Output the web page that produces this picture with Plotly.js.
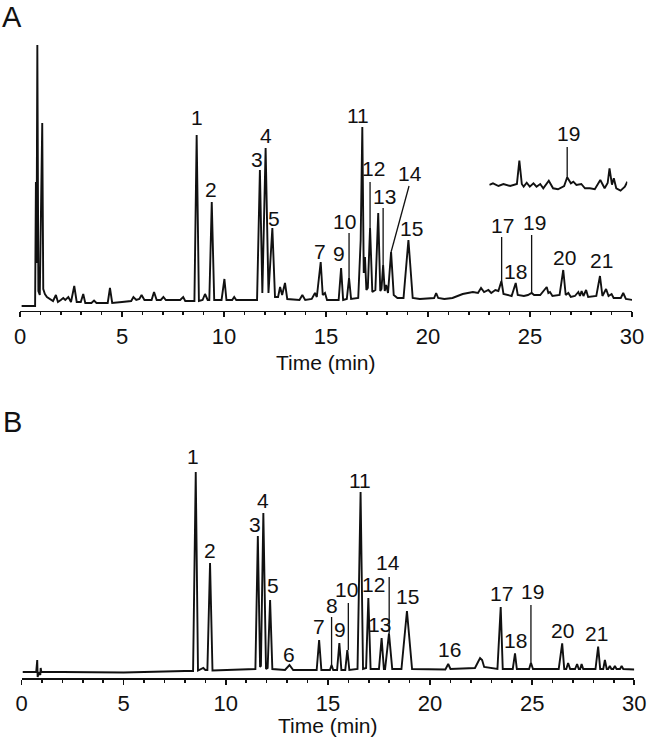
<!DOCTYPE html>
<html>
<head>
<meta charset="utf-8">
<script src="https://cdn.plot.ly/plotly-3.0.1.min.js"></script>
<style>
  html, body { margin: 0; padding: 0; background: #fff; }
  #chart { width: 649px; height: 739px; }
</style>
</head>
<body>
<div id="chart"></div>
<script>
// chromatogram A (sample): time (min) and signal (a.u.)
const timeA = [0.08, 0.74, 0.78, 0.81, 0.85, 0.90, 0.97, 1.09, 1.14, 1.22, 1.32, 1.45, 1.62, 1.76, 1.86,
  2.0, 2.12, 2.22, 2.37, 2.5, 2.66, 2.78, 2.98, 3.1, 3.2, 3.5, 3.63, 3.75, 4.3, 4.41, 4.52, 5.0, 5.3,
  5.45, 5.56, 5.7, 5.85, 5.96, 6.1, 6.45, 6.57, 6.7, 6.9, 7.03, 7.15, 7.6, 7.85, 8.0, 8.1, 8.55, 8.66,
  8.77, 8.95, 9.07, 9.2, 9.28, 9.4, 9.52, 9.88, 10.02, 10.12, 10.4, 10.5, 10.6, 11.62, 11.76, 11.88,
  12.04, 12.18, 12.37, 12.5, 12.65, 12.75, 12.85, 12.99, 13.1, 13.7, 13.84, 13.98, 14.3, 14.46, 14.55,
  14.74, 14.84, 14.95, 15.05, 15.62, 15.74, 15.84, 16.02, 16.13, 16.23, 16.58, 16.7, 16.78, 16.85,
  16.91, 16.98, 17.05, 17.16, 17.27, 17.42, 17.56, 17.66, 17.72, 17.8, 17.88, 17.95, 18.04, 18.19,
  18.32, 18.5, 18.8, 19.04, 19.25, 19.6, 20.3, 20.4, 20.5, 20.8, 21.2, 21.7, 22.2, 22.45, 22.6, 22.75,
  22.96, 23.1, 23.3, 23.45, 23.6, 23.7, 23.86, 24.1, 24.3, 24.4, 24.7, 24.9, 25.08, 25.2, 25.5, 25.82,
  25.9, 25.98, 26.1, 26.45, 26.63, 26.75, 26.88, 27.0, 27.2, 27.37, 27.45, 27.53, 27.62, 27.75, 27.85,
  28.25, 28.43, 28.55, 28.73, 28.85, 29.0, 29.1, 29.45, 29.57, 29.7, 30.05];
const signalA = [-3, -3, 121, 40, 258, 12, 8, 180, 14, 9, 6, 4, 2, 8, 1,
  3, 5, 3, 6, 1, 17, 1, 1, 9, 0, 0, 2.5, 0, 0, 15, 0, 1, 1.5,
  2, 6, 3, 4, 8, 3, 3, 11, 3, 3, 6, 3, 3, 3, 6, 2, 2, 168,
  2, 3, 9, 3, 3, 101, 3, 3, 24, 3, 3, 6, 3, 3, 133, 10,
  155, 10, 75, 6, 6, 16, 8, 20, 4, 3, 8, 3, 4, 10, 6,
  41, 8, 10, 3, 3, 35, 3, 4, 25, 4, 5, 63, 176, 30,
  46, 13, 15, 75, 11, 13, 90, 12, 14, 38, 12, 18, 10, 51,
  8, 5, 5, 63, 5, 4, 5, 10, 5, 4, 5, 9, 11, 10, 15, 11,
  13, 10, 13, 12, 22, 9, 8, 7, 20, 8, 7, 8, 10, 8, 8, 16,
  10, 11, 7, 8, 33, 8, 10, 6, 7, 11, 7, 12, 7, 13, 6,
  7, 27, 7, 14, 7, 9, 5, 5, 10, 4, 3];

// inset of A (enlarged 23.8-26.1 min)
const timeInset = [23.81, 23.87, 23.96, 24.04, 24.15, 24.23, 24.26, 24.30, 24.34, 24.37, 24.42, 24.47,
  24.53, 24.58, 24.64, 24.69, 24.78, 24.85, 24.93, 25.03, 25.08, 25.14, 25.18, 25.23, 25.31, 25.37,
  25.45, 25.53, 25.62, 25.69, 25.74, 25.77, 25.81, 25.84, 25.88, 25.95, 26.02, 26.06];
const signalInset = [2, 3.7, 1, 3, 1, 2, 3, 26.3, 3, 0.3, 4.3, 0.3,
  3.7, 0.3, 3, -1.3, 6.3, -1.3, -2.3, 1, 9.7, 3.7, 5.3, 2, 3, -1.3,
  -1.3, -2.3, 7, -1.3, 4, 18.7, 2.3, 8.7, -1.3, -3.7, 0.3, 5.3];

// chromatogram B (standards)
const timeB = [0.06, 0.72, 0.77, 0.79, 0.85, 0.92, 0.94, 0.97, 2, 5, 8, 8.4, 8.53, 8.64, 8.9, 9.0,
  9.1, 9.23, 9.35, 10.5, 11.45, 11.57, 11.68, 11.72, 11.84, 11.97, 12.05, 12.17, 12.28, 12.9, 13.12,
  13.3, 14.45, 14.57, 14.68, 15.1, 15.18, 15.26, 15.45, 15.56, 15.66, 15.85, 15.95, 16.05, 16.45,
  16.6, 16.72, 16.87, 16.98, 17.09, 17.5, 17.63, 17.74, 17.8, 17.99, 18.15, 18.6, 18.87, 19.12,
  20.75, 20.89, 21.0, 22.2, 22.35, 22.45, 22.55, 22.65, 23.3, 23.46, 23.56, 24.05, 24.16, 24.25,
  24.85, 24.94, 25.04, 26.3, 26.47, 26.57, 26.67, 26.76, 26.86, 27.1, 27.2, 27.28, 27.35, 27.42,
  27.5, 28.1, 28.23, 28.33, 28.48, 28.56, 28.65, 28.72, 28.8, 28.88, 28.97, 29.05, 29.13, 29.3,
  29.38, 29.46, 30.0];
const signalB = [0, 0, 12, -5, 0, -3, 4, 0, 0, -0.5, 1, 1, 200, 1.5, 4, 2,
  2, 109, 1.5, 2, 3, 136, 5, 6, 159, 3, 4, 72, 3, 2, 7,
  2, 2, 32, 2, 2, 7, 2, 2, 29, 2, 2, 22, 2, 3,
  180, 3, 4, 74, 3, 3, 34, 3, 3, 38.7, 3, 3, 61, 3,
  2.5, 8, 3, 4, 10, 14, 12, 5, 3, 65, 3, 3, 18.7, 3,
  3, 9.3, 3, 3, 28.7, 3, 3, 9, 3, 3, 8, 3, 3, 8,
  3, 3, 25.3, 3, 3, 12, 3, 3, 6, 3, 3, 6, 3, 3,
  6, 3, 2.5];

// peak numbers: text, centre time, value at the bottom of the digits
const labelTextA = ['1', '2', '3', '4', '5', '7', '9', '10', '11', '12', '13', '14', '15', '17', '18', '19', '20', '21'];
const labelTimeA = [8.66, 9.36, 11.6, 12.04, 12.45, 14.71, 15.65, 15.93, 16.58, 17.35, 17.89, 19.12, 19.2, 23.66, 24.31, 25.21, 26.68, 28.51];
const labelValA = [177, 105, 135, 159, 76, 43, 41, 73, 179, 126, 98, 121, 66, 69, 23, 72, 37, 34];

const labelTextB = ['1', '2', '3', '4', '5', '6', '7', '8', '9', '10', '11', '12', '13', '14', '15', '16', '17', '18', '19', '20', '21'];
const labelTimeB = [8.41, 9.23, 11.43, 11.84, 12.3, 13.11, 14.56, 15.18, 15.59, 15.93, 16.56, 17.22, 17.51, 17.92, 18.88, 20.94, 23.5, 24.16, 25.02, 26.47, 28.15];
const labelValB = [207, 113, 139, 163, 78, 9.3, 37, 58, 34, 74, 183, 79, 39, 101, 67, 14, 70, 23, 72, 33, 30];

// leader lines: [t1, v1, t2, v2]
const leadersA = [[16.13, 70, 16.13, 25], [17.16, 121, 17.16, 75], [17.8, 95, 17.8, 38],
  [19.07, 117, 18.19, 51], [23.61, 66, 23.61, 22], [25.08, 68, 25.08, 10]];
const leadersB = [[15.18, 55, 15.18, 7], [16.0, 69, 16.0, 22], [18.0, 95, 18.0, 38.7], [24.94, 67, 24.94, 9.3]];
const leadersInset = [[25.08, 40, 25.08, 9.7]];
const insetLabel = ['19', 25.10, 45];

const ink = '#111';
const font = 'Liberation Sans, Arial, sans-serif';

function leaderTrace(list, xa, ya) {
  const x = [], y = [];
  list.forEach(l => { x.push(l[0], l[2], null); y.push(l[1], l[3], null); });
  return { type: 'scatter', mode: 'lines', x: x, y: y, xaxis: xa, yaxis: ya,
    line: { color: ink, width: 1.3 }, hoverinfo: 'skip', showlegend: false };
}

function lineTrace(x, y, xa, ya) {
  return { type: 'scatter', mode: 'lines', x: x, y: y, xaxis: xa, yaxis: ya,
    line: { color: ink, width: 1.9 }, hoverinfo: 'skip', showlegend: false };
}

const data = [
  lineTrace(timeA, signalA, 'x', 'y'),
  lineTrace(timeB, signalB, 'x2', 'y2'),
  lineTrace(timeInset, signalInset, 'x3', 'y3'),
  leaderTrace(leadersA, 'x', 'y'),
  leaderTrace(leadersB, 'x2', 'y2'),
  leaderTrace(leadersInset, 'x3', 'y3')
];

function peakLabels(texts, times, vals, xr, yr) {
  return texts.map((t, i) => ({
    text: t, x: times[i], y: vals[i], xref: xr, yref: yr, showarrow: false,
    xanchor: 'center', yanchor: 'bottom', yshift: -5,
    font: { family: font, size: 21, color: ink }
  }));
}

let annotations = []
  .concat(peakLabels(labelTextA, labelTimeA, labelValA, 'x', 'y'))
  .concat(peakLabels(labelTextB, labelTimeB, labelValB, 'x2', 'y2'))
  .concat(peakLabels([insetLabel[0]], [insetLabel[1]], [insetLabel[2]], 'x3', 'y3'));

annotations.push(
  { text: 'A', xref: 'paper', yref: 'paper', x: 12 / 649, y: 1, showarrow: false, borderpad: 0,
    xanchor: 'center', yanchor: 'top', font: { family: font, size: 29, color: ink } },
  { text: 'B', xref: 'paper', yref: 'paper', x: 12 / 649, y: 1 - 422 / 739, showarrow: false,
    xanchor: 'center', yanchor: 'middle', font: { family: font, size: 29, color: ink } },
  { text: 'Time (min)', xref: 'paper', yref: 'paper', x: 326 / 649, y: 1 - 362 / 739, showarrow: false,
    xanchor: 'center', yanchor: 'middle', font: { family: font, size: 21, color: ink } },
  { text: 'Time (min)', xref: 'paper', yref: 'paper', x: 328 / 649, y: 1 - 725 / 739, showarrow: false,
    xanchor: 'center', yanchor: 'middle', font: { family: font, size: 21, color: ink } }
);

function timeAxis(domain, anchor) {
  return {
    domain: domain, anchor: anchor, range: [0, 30], showgrid: false, zeroline: false,
    showline: true, linecolor: ink, linewidth: 1.8,
    ticks: 'outside', ticklen: 5, tickwidth: 1.6, tickcolor: ink, tick0: 0, dtick: 5,
    minor: { dtick: 1, ticks: 'outside', ticklen: 3, tickwidth: 1.6, tickcolor: ink },
    tickfont: { family: font, size: 22, color: ink }, fixedrange: true
  };
}

const hidden = (domain, range, anchor) => ({ domain: domain, range: range, anchor: anchor, visible: false, fixedrange: true });

const layout = {
  width: 649, height: 739,
  margin: { l: 0, r: 0, t: 0, b: 0 },
  paper_bgcolor: '#fff', plot_bgcolor: 'rgba(0,0,0,0)',
  showlegend: false,
  xaxis: timeAxis([20 / 649, 632 / 649], 'y'),
  yaxis: hidden([1 - 310.5 / 739, 1 - 30 / 739], [-7.5, 273], 'x'),
  xaxis2: timeAxis([21.5 / 649, 634.3 / 649], 'y2'),
  yaxis2: hidden([1 - 678 / 739, 1 - 460 / 739], [-6, 212], 'x2'),
  xaxis3: { domain: [489.3 / 649, 627.3 / 649], range: [23.81, 26.06], anchor: 'y3', visible: false, fixedrange: true },
  yaxis3: hidden([1 - 195 / 739, 1 - 140 / 739], [-8, 47], 'x3'),
  annotations: annotations
};

Plotly.newPlot('chart', data, layout, { staticPlot: true, displayModeBar: false });
</script>
</body>
</html>
